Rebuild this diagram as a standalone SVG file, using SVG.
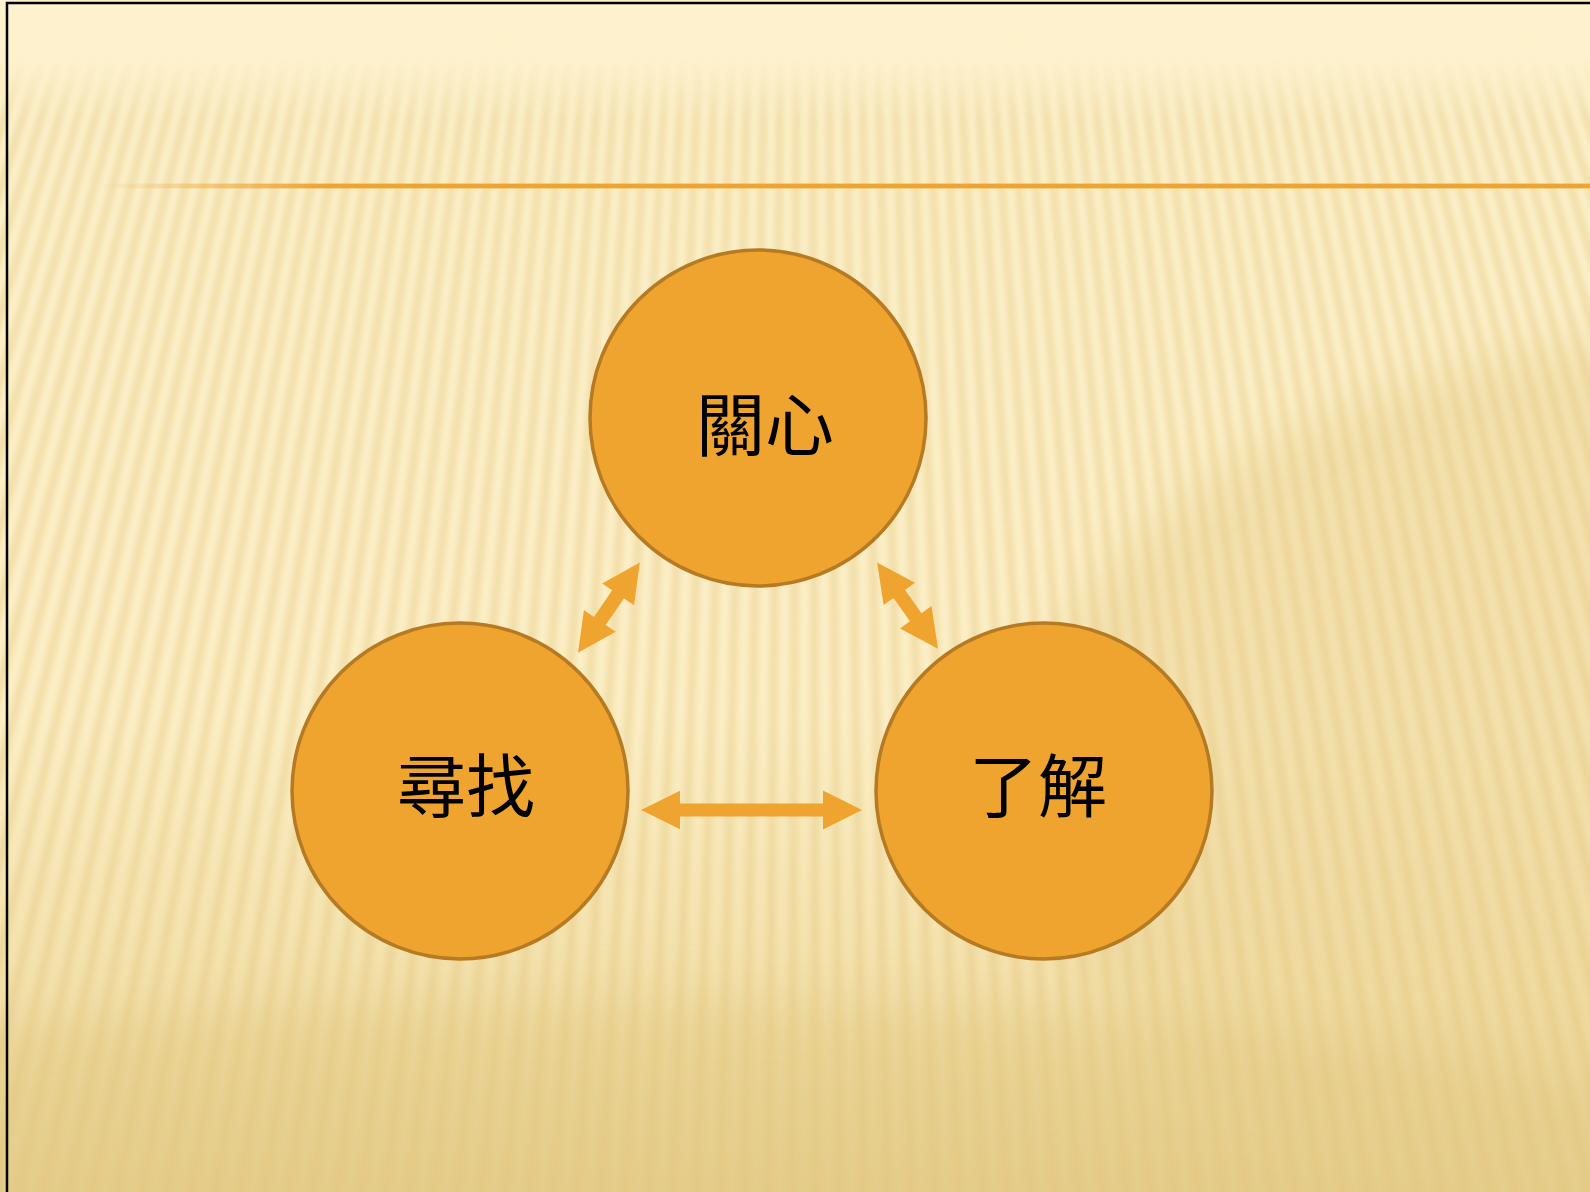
<svg xmlns="http://www.w3.org/2000/svg" width="1590" height="1192" viewBox="0 0 1590 1192">
<defs>
<style>
.node circle{fill:#EFA430;stroke:#B57A22;stroke-width:3.5}
.node text{font-family:"Noto Sans CJK TC","Noto Sans CJK SC",sans-serif;font-size:69px;fill:#000;text-anchor:middle}
.conn polygon{fill:#EFA430}
</style>
<linearGradient id="bg" x1="0" y1="0" x2="0" y2="1">
<stop offset="0" stop-color="#FDF2CD"/>
<stop offset="0.6" stop-color="#FCEFC6"/>
<stop offset="0.84" stop-color="#F3E0AA"/>
<stop offset="1" stop-color="#E6CF8E"/>
</linearGradient>
<linearGradient id="fadeM" x1="0" y1="0" x2="0" y2="1192" gradientUnits="userSpaceOnUse">
<stop offset="0" stop-color="#fff" stop-opacity="0"/>
<stop offset="0.05" stop-color="#fff" stop-opacity="0"/>
<stop offset="0.1" stop-color="#fff" stop-opacity="1"/>
<stop offset="1" stop-color="#fff" stop-opacity="1"/>
</linearGradient>
<mask id="m" maskUnits="userSpaceOnUse" x="0" y="0" width="1590" height="1192">
<rect x="0" y="0" width="1590" height="1192" fill="url(#fadeM)"/>
</mask>
<filter id="blur" filterUnits="userSpaceOnUse" x="0" y="0" width="1590" height="1192">
<feGaussianBlur stdDeviation="3"/>
</filter>
<filter id="blur2" filterUnits="userSpaceOnUse" x="0" y="0" width="1590" height="1192">
<feGaussianBlur stdDeviation="25"/>
</filter>
<linearGradient id="line" x1="100" y1="0" x2="1590" y2="0" gradientUnits="userSpaceOnUse">
<stop offset="0" stop-color="#EFA430" stop-opacity="0"/>
<stop offset="0.15" stop-color="#EFA430" stop-opacity="1"/>
<stop offset="1" stop-color="#EFA430" stop-opacity="1"/>
</linearGradient>
</defs>
<g id="background">
<rect x="0" y="0" width="1590" height="1192" fill="url(#bg)"/>
<g filter="url(#blur2)">
<ellipse cx="1760" cy="780" rx="740" ry="450" fill="#EBD395" opacity="0.5"/>
<ellipse cx="600" cy="1200" rx="1200" ry="200" fill="#E2C985" opacity="0.45"/>
</g>
<g mask="url(#m)">
<circle cx="806" cy="-2380" r="3000" fill="none" stroke="#E3C57D" stroke-width="2400" stroke-dasharray="8 12" opacity="0.45" filter="url(#blur)"/>
</g>
<path d="M7 1192V3H1590" fill="none" stroke="#000" stroke-width="2.5"/>
<rect x="101" y="183.6" width="1489" height="4.8" fill="url(#line)"/>
</g>
<g id="connectors" class="conn">
<polygon points="639.8,562.5 634.0,605.2 623.9,598.4 605.7,625.0 615.7,631.8 578.0,652.8 583.9,610.1 593.9,616.9 612.2,590.3 602.1,583.5"/>
<polygon points="877.1,562.5 915.0,582.8 905.1,589.9 921.5,613.2 931.5,606.1 938.0,648.7 900.0,628.4 910.0,621.3 893.5,598.0 883.6,605.1"/>
<polygon points="641,810 680,790.7 680,803.5 823,803.5 823,790.5 862,810 823,829.5 823,816.5 680,816.5 680,829.3"/>
</g>
<g id="node-guanxin" class="node">
<circle cx="758" cy="418" r="168"/>
<text x="765" y="451">關心</text>
</g>
<g id="node-xunzhao" class="node">
<circle cx="460" cy="791" r="168"/>
<text x="466" y="812">尋找</text>
</g>
<g id="node-liaojie" class="node">
<circle cx="1044" cy="791" r="168"/>
<text x="1038" y="812">了解</text>
</g>
</svg>
